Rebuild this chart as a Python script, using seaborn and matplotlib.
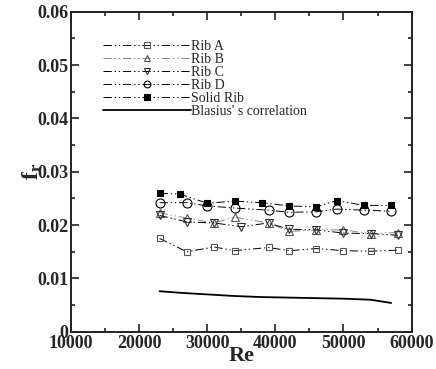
import matplotlib
matplotlib.use("Agg")
import matplotlib.pyplot as plt
import seaborn as sns
import pandas as pd
from matplotlib.ticker import MultipleLocator, FuncFormatter

# ---- data ----
re_a = [23000, 27000, 31000, 34000, 39000, 42000, 46000, 50000, 54000, 58000]
f_a = [0.0175, 0.0150, 0.0159, 0.0152, 0.0158, 0.0152, 0.0156, 0.0152, 0.0151, 0.0153]

re_b = [23000, 27000, 31000, 34000, 39000, 42000, 46000, 50000, 54000, 58000]
f_b = [0.0223, 0.0213, 0.0204, 0.0215, 0.0204, 0.0188, 0.0191, 0.0191, 0.0184, 0.0186]

re_c = [23000, 27000, 31000, 35000, 39000, 42000, 46000, 50000, 54000, 58000]
f_c = [0.0218, 0.0206, 0.0204, 0.0197, 0.0204, 0.0192, 0.0191, 0.0185, 0.0184, 0.0181]

re_d = [23000, 27000, 30000, 34000, 39000, 42000, 46000, 49000, 53000, 57000]
f_d = [0.0242, 0.0242, 0.0236, 0.0232, 0.0228, 0.0224, 0.0225, 0.0230, 0.0228, 0.0226]

re_s = [23000, 26000, 30000, 34000, 38000, 42000, 46000, 49000, 53000, 57000]
f_s = [0.0260, 0.0258, 0.0241, 0.0245, 0.0242, 0.0236, 0.0234, 0.0246, 0.0237, 0.0237]

re_bl = [23000, 26000, 30000, 34000, 38000, 42000, 46000, 50000, 54000, 57000]
f_bl = [0.0076, 0.0073, 0.0070, 0.0067, 0.0065, 0.0064, 0.0063, 0.0062, 0.0060, 0.0054]

labels = ["Rib A", "Rib B", "Rib C", "Rib D", "Solid Rib", "Blasius' s correlation"]
x_ticks = [10000, 20000, 30000, 40000, 50000, 60000]
y_ticks = [0, 0.01, 0.02, 0.03, 0.04, 0.05, 0.06]

# ---- style ----
sns.set_style("ticks")
plt.rcParams["font.family"] = ["Liberation Serif", "DejaVu Serif"]
plt.rcParams["mathtext.fontset"] = "custom"
plt.rcParams["mathtext.bf"] = "Liberation Serif:bold"
plt.rcParams["mathtext.rm"] = "Liberation Serif:bold"
plt.rcParams["mathtext.it"] = "Liberation Serif:bold"
plt.rcParams["lines.scale_dashes"] = False

fig = plt.figure(figsize=(4.36, 3.69), dpi=100)
ax = fig.add_axes([0.163, 0.101, 0.944 - 0.163, 0.968 - 0.101])

dashdotdot = (0, (6, 2, 1, 2, 1, 2))
series = [
    (re_a, f_a, "s", "black", "none", "#555555", 5.0),
    (re_b, f_b, "^", "#888888", "none", "#555555", 5.5),
    (re_c, f_c, "v", "black", "none", "#333333", 5.5),
    (re_d, f_d, "o", "black", "none", "black", 6.5),
    (re_s, f_s, "s", "black", "black", "black", 5.0),
]
for (xs, ys, mk, lc, mfc, mec, ms), lab in zip(series, labels[:5]):
    df = pd.DataFrame({"Re": xs, "f": ys})
    sns.lineplot(data=df, x="Re", y="f", ax=ax, color=lc, linestyle=dashdotdot,
                 linewidth=0.7, marker=mk, markersize=ms,
                 markerfacecolor=mfc, markeredgecolor=mec, markeredgewidth=0.8,
                 label=lab)

dfb = pd.DataFrame({"Re": re_bl, "f": f_bl})
sns.lineplot(data=dfb, x="Re", y="f", ax=ax, color="black", linewidth=1.3,
             label=labels[5])

ax.set_xlim(10000, 60000)
ax.set_ylim(0, 0.06)
ax.set_xticks(x_ticks)
ax.set_yticks(y_ticks)
ax.xaxis.set_minor_locator(MultipleLocator(5000))
ax.yaxis.set_minor_locator(MultipleLocator(0.005))
ax.yaxis.set_major_formatter(FuncFormatter(lambda v, p: "0" if abs(v) < 1e-12 else f"{v:.2f}"))
ax.tick_params(which="both", direction="in", top=True, right=True, width=1.2, color="#222222")
ax.tick_params(which="major", length=6, labelsize=13, pad=2)
ax.tick_params(which="minor", length=3)
for lab in ax.get_xticklabels() + ax.get_yticklabels():
    lab.set_fontweight("bold")
for sp in ax.spines.values():
    sp.set_linewidth(1.4)
    sp.set_color("#222222")

ax.set_xlabel("Re", fontsize=16, fontweight="bold", labelpad=-4)
ax.set_ylabel(r"$\mathbf{f_r}$", fontsize=17, labelpad=-5)

leg = ax.legend(loc="upper left", bbox_to_anchor=(0.094, 0.912), frameon=False,
                fontsize=10, handlelength=6.3, handletextpad=0.0,
                labelspacing=0.0, borderaxespad=0, borderpad=0, markerscale=0.75)

fig.savefig("out.png", dpi=100)
